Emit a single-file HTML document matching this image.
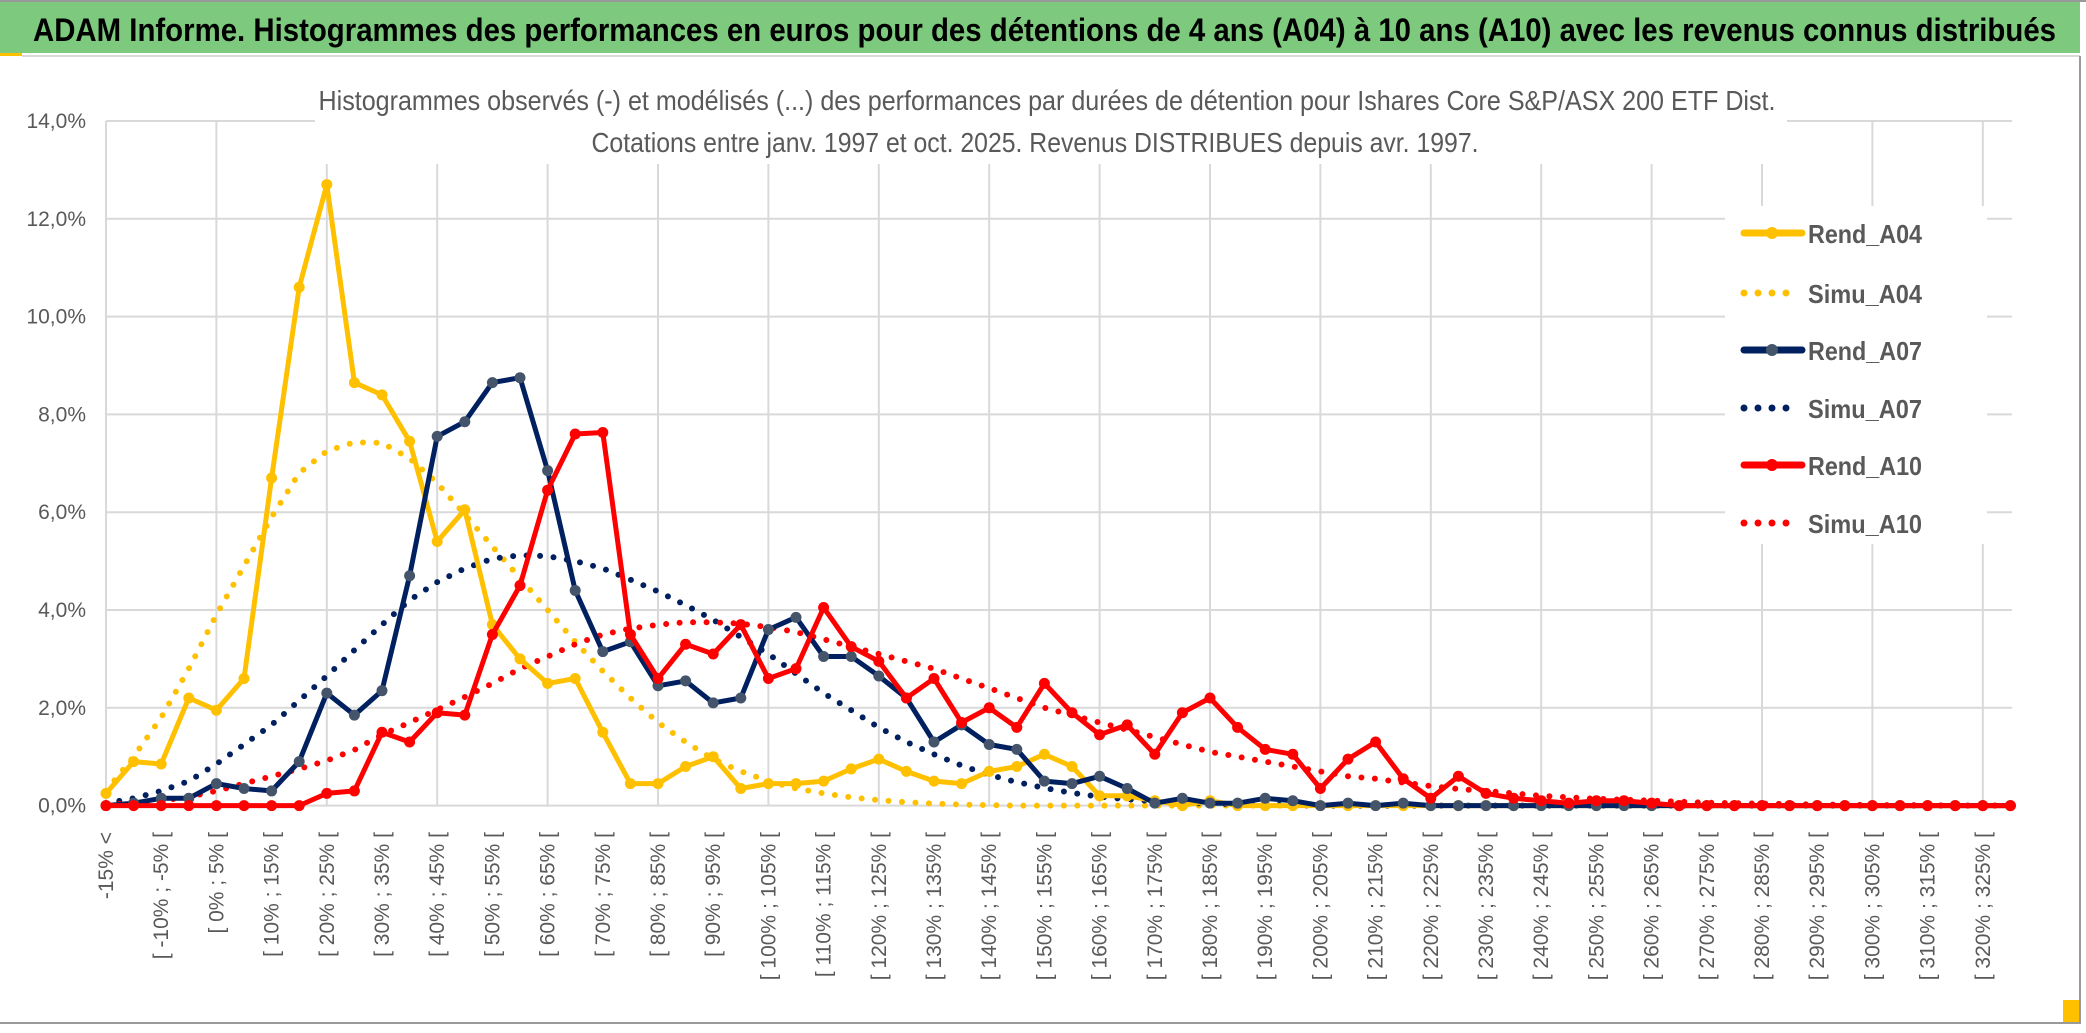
<!DOCTYPE html>
<html><head><meta charset="utf-8"><style>
html,body{margin:0;padding:0;background:#fff;}
svg{display:block;font-family:"Liberation Sans",sans-serif;}
</style></head><body>
<svg id="chart" width="2086" height="1033" viewBox="0 0 2086 1033" xmlns="http://www.w3.org/2000/svg">
<rect x="0" y="0" width="2086" height="1033" fill="#fff"/>
<rect x="0" y="0" width="2086" height="2" fill="#999"/>
<rect x="0" y="2" width="2080" height="51" fill="#7dc97d"/>
<rect x="0" y="53" width="22" height="3" fill="#ffc000"/>
<rect x="22" y="55" width="2058" height="2" fill="#d9d9d9"/>
<text x="33" y="41" font-size="32" font-weight="bold" fill="#000" textLength="2023" lengthAdjust="spacingAndGlyphs">ADAM Informe. Histogrammes des performances en euros pour des détentions de 4 ans (A04) à 10 ans (A10) avec les revenus connus distribués</text>
<g id="grid"></g>
<g id="ylabels"></g>
<g id="xlabels"></g>
<g id="series"></g>
<rect x="315" y="62" width="1472" height="102" fill="#fff"/>
<text x="1047" y="110" font-size="28" fill="#595959" text-anchor="middle" textLength="1457" lengthAdjust="spacingAndGlyphs">Histogrammes observés (-) et modélisés (...) des performances par durées de détention pour Ishares Core S&amp;P/ASX 200 ETF Dist.</text>
<text x="1035" y="152" font-size="28" fill="#595959" text-anchor="middle" textLength="887" lengthAdjust="spacingAndGlyphs">Cotations entre janv. 1997 et oct. 2025. Revenus DISTRIBUES depuis avr. 1997.</text>
<rect x="1725" y="206" width="262" height="338" fill="#fff"/>
<g id="legend"></g>
<rect x="2079" y="56" width="2" height="968" fill="#9a9a9a"/>
<rect x="0" y="1022" width="2081" height="2" fill="#9a9a9a"/>
<rect x="2063" y="1000" width="16" height="22" fill="#ffc000"/>
</svg>
<script>
const categoriesStart = -15;
const rendA04 = [0.25,0.9,0.85,2.2,1.95,2.6,6.7,10.6,12.7,8.65,
8.4,7.45,5.4,6.05,3.7,3.0,2.5,2.6,1.5,0.45,
0.45,0.8,1.0,0.35,0.45,0.45,0.5,0.75,0.95,0.7,
0.5,0.45,0.7,0.8,1.05,0.8,0.2,0.2,0.1,0.0,
0.1,0,0,0,0,0,0,0,0,0,
0,0,0,0,0,0,0,0,0,0,
0,0,0,0,0,0,0,0,0,0];
const simuA04 = [0.3,1.0,1.8,2.8,3.9,4.9,5.9,6.8,7.25,7.43,
7.42,7.1,6.6,5.95,5.3,4.65,4.0,3.35,2.75,2.2,
1.7,1.3,0.95,0.7,0.5,0.35,0.25,0.17,0.11,0.07,
0.04,0.02,0.01,0,0,0,0,0,0,0,
0,0,0,0,0,0,0,0,0,0,
0,0,0,0,0,0,0,0,0,0,
0,0,0,0,0,0,0,0,0,0];
const rendA07 = [0,0.05,0.15,0.15,0.45,0.35,0.3,0.9,2.3,1.85,
2.35,4.7,7.55,7.85,8.65,8.75,6.85,4.4,3.15,3.35,
2.45,2.55,2.1,2.2,3.6,3.85,3.05,3.05,2.65,2.2,
1.3,1.65,1.25,1.15,0.5,0.45,0.6,0.35,0.05,0.15,
0.05,0.05,0.15,0.1,0,0.05,0,0.05,0,0,
0,0,0,0,0,0,0,0,0,0,
0,0,0,0,0,0,0,0,0,0];
const simuA07 = [0.05,0.15,0.3,0.5,0.85,1.25,1.65,2.15,2.65,3.18,
3.7,4.2,4.57,4.85,5.05,5.12,5.1,5.0,4.85,4.62,
4.38,4.1,3.8,3.45,3.1,2.7,2.3,1.95,1.6,1.3,
1.05,0.82,0.63,0.48,0.36,0.26,0.18,0.13,0.09,0.06,
0.04,0.03,0.02,0.01,0,0,0,0,0,0,
0,0,0,0,0,0,0,0,0,0,
0,0,0,0,0,0,0,0,0,0];
const rendA10 = [0,0,0,0,0,0,0,0,0.25,0.3,
1.5,1.3,1.9,1.85,3.5,4.5,6.45,7.6,7.63,3.5,
2.6,3.3,3.1,3.7,2.6,2.8,4.05,3.25,2.95,2.2,
2.6,1.7,2.0,1.6,2.5,1.9,1.45,1.65,1.05,1.9,
2.2,1.6,1.15,1.05,0.35,0.95,1.3,0.55,0.15,0.6,
0.25,0.15,0.1,0.05,0.1,0.1,0.05,0,0,0,
0,0,0,0,0,0,0,0,0,0];
const simuA10 = [0.02,0.05,0.1,0.18,0.3,0.45,0.6,0.75,0.92,1.14,
1.45,1.7,1.96,2.22,2.5,2.8,3.05,3.3,3.5,3.62,
3.7,3.75,3.75,3.72,3.65,3.55,3.4,3.25,3.1,2.95,
2.8,2.6,2.4,2.2,2.0,1.85,1.7,1.55,1.4,1.25,
1.1,1.0,0.9,0.8,0.7,0.6,0.55,0.47,0.4,0.34,
0.3,0.25,0.2,0.17,0.14,0.12,0.1,0.08,0.06,0.05,
0.04,0.03,0.02,0.02,0.01,0.01,0.01,0,0,0];
const yTicks = [0,2,4,6,8,10,12,14];
const categoryCount = 70;
const categories = [];
for (let i = 0; i < categoryCount; i++) {
  if (i === 0) categories.push("-15% <");
  else { const a = categoriesStart + 5*(i-1); categories.push("[ " + a + "% ; " + (a+5) + "% ["); }
}

const NS = "http://www.w3.org/2000/svg";
const X0 = 106, DX = 27.6, Y0 = 805.6, PY = 48.9, XR = 2012;
const xs = i => X0 + DX*i;
const ys = v => Y0 - PY*v;
function mk(tag, attrs, parent) {
  const e = document.createElementNS(NS, tag);
  for (const k in attrs) e.setAttribute(k, attrs[k]);
  parent.appendChild(e);
  return e;
}
const grid = document.getElementById('grid');
yTicks.forEach(t => {
  const l = mk('line', {x1: X0, x2: XR, y1: ys(t), y2: ys(t), stroke: '#d9d9d9', 'stroke-width': 2}, grid);
  
  
});
for (let i = 0; i < categoryCount; i += 4) {
  const l = mk('line', {x1: xs(i), x2: xs(i), y1: ys(14), y2: Y0, stroke: '#d9d9d9', 'stroke-width': 2}, grid);
  
  
}
const yl = document.getElementById('ylabels');
yTicks.forEach(t => {
  const tx = mk('text', {x: 86, y: ys(t)+7, 'font-size': 21, fill: '#595959', 'text-anchor': 'end'}, yl);
  tx.textContent = t.toFixed(1).replace('.', ',') + '%';
  
  
});
const xl = document.getElementById('xlabels');
categories.forEach((c, i) => {
  if (i % 2) return;
  const x = xs(i) + 7;
  const tx = mk('text', {x: x, y: 832, 'font-size': 21, fill: '#595959', 'text-anchor': 'end', transform: 'rotate(-90 ' + x + ' 832)'}, xl);
  tx.textContent = c;
  
  
});
const sg = document.getElementById('series');
function pathD(arr) { return arr.map((v,i) => (i ? 'L' : 'M') + xs(i).toFixed(1) + ',' + ys(v).toFixed(1)).join(''); }
function dotted(arr, color, name) {
  const p = mk('path', {d: pathD(arr), fill: 'none', stroke: color, 'stroke-width': 6, 'stroke-linecap': 'round', 'stroke-dasharray': '0 13.5'}, sg);
  
  
}
function solid(arr, color, mcolor, name) {
  const g = mk('g', {}, sg);
  
  
  const p = mk('path', {d: pathD(arr), fill: 'none', stroke: color, 'stroke-width': 5, 'stroke-linejoin': 'round'}, g);
  
  
  arr.forEach((v, i) => {
    const c = mk('circle', {cx: xs(i), cy: ys(v), r: 5.5, fill: mcolor}, g);
    
    
  });
}
dotted(simuA04, '#ffc000', 'simu-a04-series');
dotted(simuA07, '#002060', 'simu-a07-series');
dotted(simuA10, '#ff0000', 'simu-a10-series');
solid(rendA04, '#ffc000', '#ffc000', 'rend-a04-series');
solid(rendA07, '#002060', '#44546a', 'rend-a07-series');
solid(rendA10, '#ff0000', '#ff0000', 'rend-a10-series');

const legendNames = ['Rend_A04','Simu_A04','Rend_A07','Simu_A07','Rend_A10','Simu_A10'];
const legendColors = ['#ffc000','#ffc000','#002060','#002060','#ff0000','#ff0000'];
const legendY = [233, 293, 350, 408, 465, 523];
const lg = document.getElementById('legend');
legendNames.forEach((n, k) => {
  const y = legendY[k];
  const g = mk('g', {}, lg);
  
  
  if (n.startsWith('Rend')) {
    mk('line', {x1: 1744, x2: 1802, y1: y, y2: y, stroke: legendColors[k], 'stroke-width': 7, 'stroke-linecap': 'round'}, g);
    mk('circle', {cx: 1772, cy: y, r: 6, fill: n === 'Rend_A07' ? '#44546a' : legendColors[k]}, g);
  } else {
    mk('line', {x1: 1744, x2: n === 'Simu_A10' ? 1800 : 1790, y1: y, y2: y, stroke: legendColors[k], 'stroke-width': 7, 'stroke-linecap': 'round', 'stroke-dasharray': '0 14'}, g);
  }
  const t = mk('text', {x: 1808, y: y + 10, 'font-size': 26, fill: '#595959', 'font-weight': 'bold', textLength: 114, lengthAdjust: 'spacingAndGlyphs'}, g);
  t.textContent = n;
});
</script>
</body></html>
